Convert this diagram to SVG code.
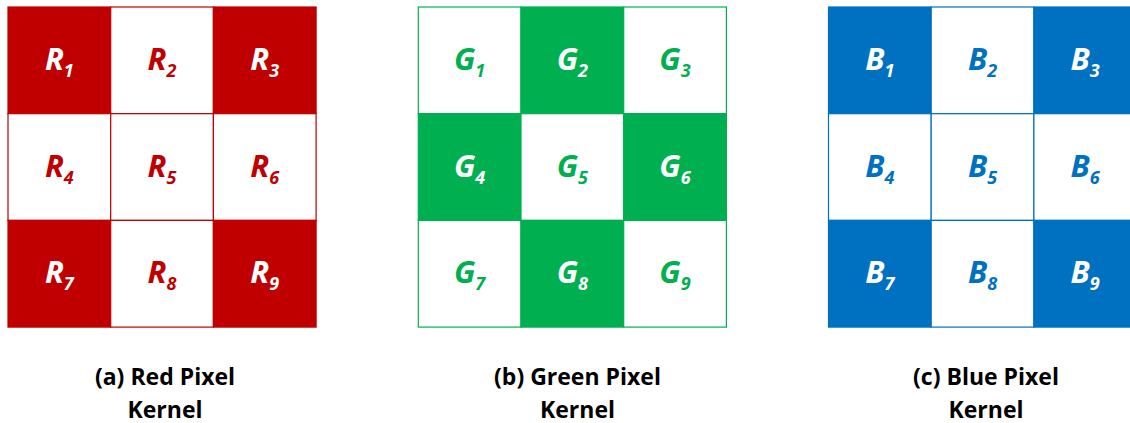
<svg xmlns="http://www.w3.org/2000/svg" width="1130" height="423" viewBox="0 0 1130 423">
<style>
.lbl{font-family:"Open Sans","Liberation Sans",sans-serif;font-weight:bold;font-style:italic;font-size:31px;text-anchor:middle}
.sub{font-size:18px}
.cap{font-family:"Open Sans","Liberation Sans",sans-serif;font-weight:bold;font-size:23px;text-anchor:middle;fill:#000}
.r{stroke:#C00000;stroke-width:1.2}
.g{stroke:#00B050;stroke-width:1.2}
.b{stroke:#0070C0;stroke-width:1.2}
.rf{fill:#C00000}.gf{fill:#00B050}.bf{fill:#0070C0}.w{fill:#fff}
.tr{fill:#C00000}.tg{fill:#00B050}.tb{fill:#0070C0}.tw{fill:#fff}
</style>
<rect width="1130" height="423" fill="#fff"/>
<!-- Red kernel -->
<g id="red-kernel">
<g id="R1"><rect class="r rf" x="8" y="7" width="102.7" height="106.7"/><text class="lbl tw" x="59.3" y="70">R<tspan class="sub" dy="7">1</tspan></text></g>
<g id="R2"><rect class="r w" x="110.7" y="7" width="102.7" height="106.7"/><text class="lbl tr" x="162" y="70">R<tspan class="sub" dy="7">2</tspan></text></g>
<g id="R3"><rect class="r rf" x="213.4" y="7" width="102.7" height="106.7"/><text class="lbl tw" x="264.7" y="70">R<tspan class="sub" dy="7">3</tspan></text></g>
<g id="R4"><rect class="r w" x="8" y="113.7" width="102.7" height="106.7"/><text class="lbl tr" x="59.3" y="176.7">R<tspan class="sub" dy="7">4</tspan></text></g>
<g id="R5"><rect class="r w" x="110.7" y="113.7" width="102.7" height="106.7"/><text class="lbl tr" x="162" y="176.7">R<tspan class="sub" dy="7">5</tspan></text></g>
<g id="R6"><rect class="r w" x="213.4" y="113.7" width="102.7" height="106.7"/><text class="lbl tr" x="264.7" y="176.7">R<tspan class="sub" dy="7">6</tspan></text></g>
<g id="R7"><rect class="r rf" x="8" y="220.4" width="102.7" height="106.7"/><text class="lbl tw" x="59.3" y="283.4">R<tspan class="sub" dy="7">7</tspan></text></g>
<g id="R8"><rect class="r w" x="110.7" y="220.4" width="102.7" height="106.7"/><text class="lbl tr" x="162" y="283.4">R<tspan class="sub" dy="7">8</tspan></text></g>
<g id="R9"><rect class="r rf" x="213.4" y="220.4" width="102.7" height="106.7"/><text class="lbl tw" x="264.7" y="283.4">R<tspan class="sub" dy="7">9</tspan></text></g>
</g>
<!-- Green kernel -->
<g id="green-kernel">
<g id="G1"><rect class="g w" x="418.3" y="7" width="102.7" height="106.7"/><text class="lbl tg" x="469.6" y="70">G<tspan class="sub" dy="7">1</tspan></text></g>
<g id="G2"><rect class="g gf" x="521" y="7" width="102.7" height="106.7"/><text class="lbl tw" x="572.3" y="70">G<tspan class="sub" dy="7">2</tspan></text></g>
<g id="G3"><rect class="g w" x="623.7" y="7" width="102.7" height="106.7"/><text class="lbl tg" x="675" y="70">G<tspan class="sub" dy="7">3</tspan></text></g>
<g id="G4"><rect class="g gf" x="418.3" y="113.7" width="102.7" height="106.7"/><text class="lbl tw" x="469.6" y="176.7">G<tspan class="sub" dy="7">4</tspan></text></g>
<g id="G5"><rect class="g w" x="521" y="113.7" width="102.7" height="106.7"/><text class="lbl tg" x="572.3" y="176.7">G<tspan class="sub" dy="7">5</tspan></text></g>
<g id="G6"><rect class="g gf" x="623.7" y="113.7" width="102.7" height="106.7"/><text class="lbl tw" x="675" y="176.7">G<tspan class="sub" dy="7">6</tspan></text></g>
<g id="G7"><rect class="g w" x="418.3" y="220.4" width="102.7" height="106.7"/><text class="lbl tg" x="469.6" y="283.4">G<tspan class="sub" dy="7">7</tspan></text></g>
<g id="G8"><rect class="g gf" x="521" y="220.4" width="102.7" height="106.7"/><text class="lbl tw" x="572.3" y="283.4">G<tspan class="sub" dy="7">8</tspan></text></g>
<g id="G9"><rect class="g w" x="623.7" y="220.4" width="102.7" height="106.7"/><text class="lbl tg" x="675" y="283.4">G<tspan class="sub" dy="7">9</tspan></text></g>
</g>
<!-- Blue kernel -->
<g id="blue-kernel">
<g id="B1"><rect class="b bf" x="828.5" y="7" width="102.7" height="106.7"/><text class="lbl tw" x="879.8" y="70">B<tspan class="sub" dy="7">1</tspan></text></g>
<g id="B2"><rect class="b w" x="931.2" y="7" width="102.7" height="106.7"/><text class="lbl tb" x="982.5" y="70">B<tspan class="sub" dy="7">2</tspan></text></g>
<g id="B3"><rect class="b bf" x="1033.9" y="7" width="102.7" height="106.7"/><text class="lbl tw" x="1085.2" y="70">B<tspan class="sub" dy="7">3</tspan></text></g>
<g id="B4"><rect class="b w" x="828.5" y="113.7" width="102.7" height="106.7"/><text class="lbl tb" x="879.8" y="176.7">B<tspan class="sub" dy="7">4</tspan></text></g>
<g id="B5"><rect class="b w" x="931.2" y="113.7" width="102.7" height="106.7"/><text class="lbl tb" x="982.5" y="176.7">B<tspan class="sub" dy="7">5</tspan></text></g>
<g id="B6"><rect class="b w" x="1033.9" y="113.7" width="102.7" height="106.7"/><text class="lbl tb" x="1085.2" y="176.7">B<tspan class="sub" dy="7">6</tspan></text></g>
<g id="B7"><rect class="b bf" x="828.5" y="220.4" width="102.7" height="106.7"/><text class="lbl tw" x="879.8" y="283.4">B<tspan class="sub" dy="7">7</tspan></text></g>
<g id="B8"><rect class="b w" x="931.2" y="220.4" width="102.7" height="106.7"/><text class="lbl tb" x="982.5" y="283.4">B<tspan class="sub" dy="7">8</tspan></text></g>
<g id="B9"><rect class="b bf" x="1033.9" y="220.4" width="102.7" height="106.7"/><text class="lbl tw" x="1085.2" y="283.4">B<tspan class="sub" dy="7">9</tspan></text></g>
</g>
<g id="connectors"/>
<g id="captions">
<text class="cap" x="165" y="385">(a) Red Pixel</text>
<text class="cap" x="165" y="418">Kernel</text>
<text class="cap" x="577.5" y="385">(b) Green Pixel</text>
<text class="cap" x="577.5" y="418">Kernel</text>
<text class="cap" x="986" y="385">(c) Blue Pixel</text>
<text class="cap" x="986" y="418">Kernel</text>
</g>
</svg>
